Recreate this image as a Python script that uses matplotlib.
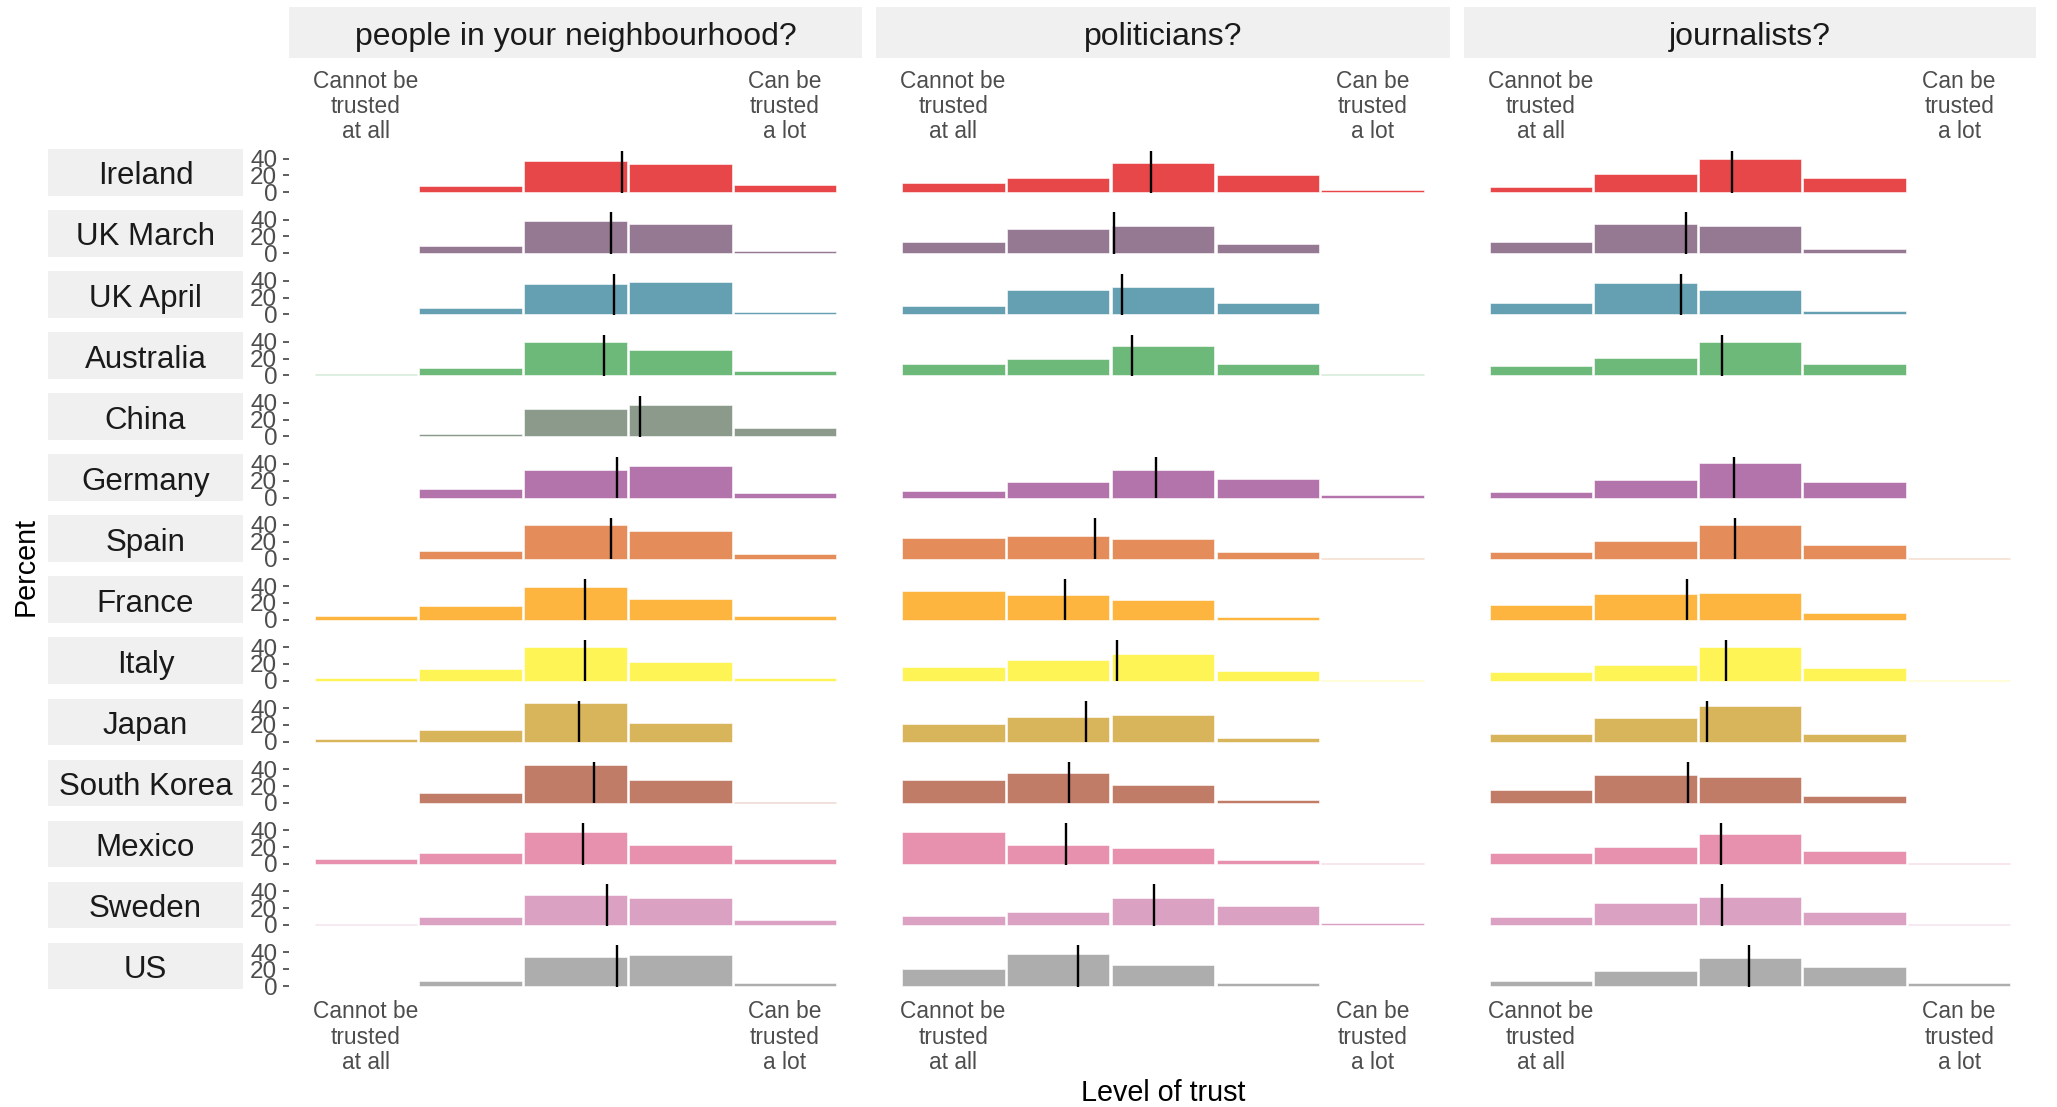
import numpy as np
import matplotlib.pyplot as plt

plt.rcParams['font.family'] = ['Liberation Sans', 'DejaVu Sans']

# data (percent of respondents per trust level 1..5)
countries = ['Ireland', 'UK March', 'UK April', 'Australia', 'China', 'Germany', 'Spain',
             'France', 'Italy', 'Japan', 'South Korea', 'Mexico', 'Sweden', 'US']
questions = ['people in your neighbourhood?', 'politicians?', 'journalists?']
levels = [1, 2, 3, 4, 5]
level_labels = ['Cannot be\ntrusted\nat all', '', '', '', 'Can be\ntrusted\na lot']

neighbourhood = [
    [0, 7, 37, 34, 8],
    [0, 9, 38, 35, 2.4],
    [0, 8, 36, 38, 2.4],
    [1.5, 9, 40, 30, 5],
    [0, 3, 33, 38, 10.6],
    [0, 10, 33, 37, 5.5],
    [0, 9.5, 39.5, 33, 5.5],
    [4.5, 16, 38.6, 25, 4.5],
    [3.6, 13.6, 40.5, 22.7, 3.6],
    [2.7, 14.5, 46, 22.7, 0],
    [0, 11.4, 45, 27, 0.6],
    [6, 13, 38, 22, 5.5],
    [1.5, 9, 36, 32, 6],
    [0, 6.4, 35, 37, 4],
]
neighbourhood_mean = [3.44, 3.34, 3.37, 3.27, 3.62, 3.40, 3.34, 3.09, 3.09, 3.03, 3.18, 3.07, 3.30, 3.40]

politicians = [
    [10.6, 16.9, 35, 20, 3],
    [13.3, 29, 32, 10.6, 0],
    [9.4, 29.4, 33, 14, 0],
    [14, 20, 34.5, 14, 1.5],
    None,
    [8.2, 18.4, 33.3, 21.6, 3],
    [24.6, 27, 23, 8.4, 0.8],
    [33.5, 29, 23, 3.7, 0],
    [15.8, 24.6, 32, 11.6, 0.7],
    [21, 29, 31.6, 4, 0],
    [27.4, 35, 21, 3.7, 0],
    [38, 22, 19, 4.6, 0.6],
    [10.7, 15.8, 32.6, 23, 2.3],
    [20, 38, 24.6, 3.3, 0],
]
politicians_mean = [2.89, 2.53, 2.61, 2.70, None, 2.93, 2.35, 2.07, 2.56, 2.27, 2.10, 2.08, 2.91, 2.19]

journalists = [
    [5.9, 22, 40, 16.5, 0],
    [13.3, 35, 32, 4.7, 0],
    [14, 37, 29.4, 4, 0],
    [10.6, 20.8, 39.6, 13.3, 0.6],
    None,
    [6.3, 20.8, 41, 18, 0],
    [7.4, 21, 39.5, 16.7, 1.2],
    [18, 30, 31.6, 8.4, 0],
    [10, 19, 40.5, 15.3, 0.6],
    [8.8, 28, 42, 8.8, 0],
    [15.3, 33, 30.7, 8.4, 0],
    [13, 20, 35.8, 15.3, 0.8],
    [9.8, 25.6, 33, 15.8, 0.7],
    [6.5, 18, 33, 22.8, 4],
]
journalists_mean = [2.83, 2.39, 2.34, 2.73, None, 2.85, 2.86, 2.40, 2.77, 2.59, 2.41, 2.72, 2.73, 2.99]

colors = ['#E8474A', '#957891', '#64A0B1', '#6DB97A', '#8B9A8B', '#B274AA', '#E48C5A',
          '#FDB53F', '#FFF456', '#D8B45A', '#C07C66', '#E791AE', '#DBA1C2', '#ADADAD']

panel_data = [neighbourhood, politicians, journalists]
panel_means = [neighbourhood_mean, politicians_mean, journalists_mean]

W, H = 2057, 1107
fig = plt.figure(figsize=(W / 100, H / 100), dpi=100)


def box(x0, y0, x1, y1):
    # pixel box (top-left origin) -> figure fraction rect
    return [x0 / W, 1 - y1 / H, (x1 - x0) / W, (y1 - y0) / H]


col_x = [(289, 862), (876, 1450), (1464, 2036)]
row_top, row_step, row_h = 149, 61.06, 46.5
strip_bg = '#F0F0F0'
grey30 = '#4D4D4D'

# column strips
for j, q in enumerate(questions):
    sx = fig.add_axes(box(col_x[j][0], 7, col_x[j][1], 58))
    sx.set_facecolor(strip_bg)
    sx.set_xticks([]); sx.set_yticks([])
    for s in sx.spines.values():
        s.set_visible(False)
    sx.text(0.5, 0.41, q, ha='center', va='center', fontsize=23, color='#1A1A1A',
            transform=sx.transAxes)

n = len(countries)
for i, c in enumerate(countries):
    y0 = row_top + row_step * i
    # row strip
    rx = fig.add_axes(box(48, y0, 243, y0 + row_h))
    rx.set_facecolor(strip_bg)
    rx.set_xticks([]); rx.set_yticks([])
    for s in rx.spines.values():
        s.set_visible(False)
    rx.text(0.5, 0.41, c, ha='center', va='center', fontsize=22.5, color='#1A1A1A',
            transform=rx.transAxes)

    for j in range(3):
        ax = fig.add_axes(box(col_x[j][0], y0, col_x[j][1], y0 + row_h))
        ax.set_xlim(0.265, 5.735)
        ax.set_ylim(-3.9, 51.4)
        for s in ax.spines.values():
            s.set_visible(False)
        vals = panel_data[j][i]
        if vals is not None:
            ax.bar(levels, vals, width=0.98, color=colors[i], edgecolor='white',
                   linewidth=0.4)
            ax.vlines(panel_means[j][i], -0.8, 48.5, color='black', linewidth=1.7)
        if j == 0:
            ax.set_yticks([0, 20, 40])
            ax.tick_params(axis='y', length=4.5, width=1.1, color='#333333',
                           labelsize=17.5, labelcolor=grey30, pad=4)
        else:
            ax.set_yticks([])
        ax.set_xticks(levels)
        if i == 0:
            ax.xaxis.tick_top()
            ax.set_xticklabels(level_labels, fontsize=16.4, color=grey30, linespacing=1.12)
            ax.tick_params(axis='x', length=0, pad=4)
        elif i == n - 1:
            ax.set_xticklabels(level_labels, fontsize=16.4, color=grey30, linespacing=1.12)
            ax.tick_params(axis='x', length=0, pad=8)
        else:
            ax.set_xticks([])

fig.text(1163 / W, 1 - 1093 / H, 'Level of trust', ha='center', va='center', fontsize=20.7)
fig.text(26 / W, 1 - 567 / H, 'Percent', ha='center', va='center', fontsize=20.7,
         rotation=90)

fig.savefig('out.png', dpi=100)
